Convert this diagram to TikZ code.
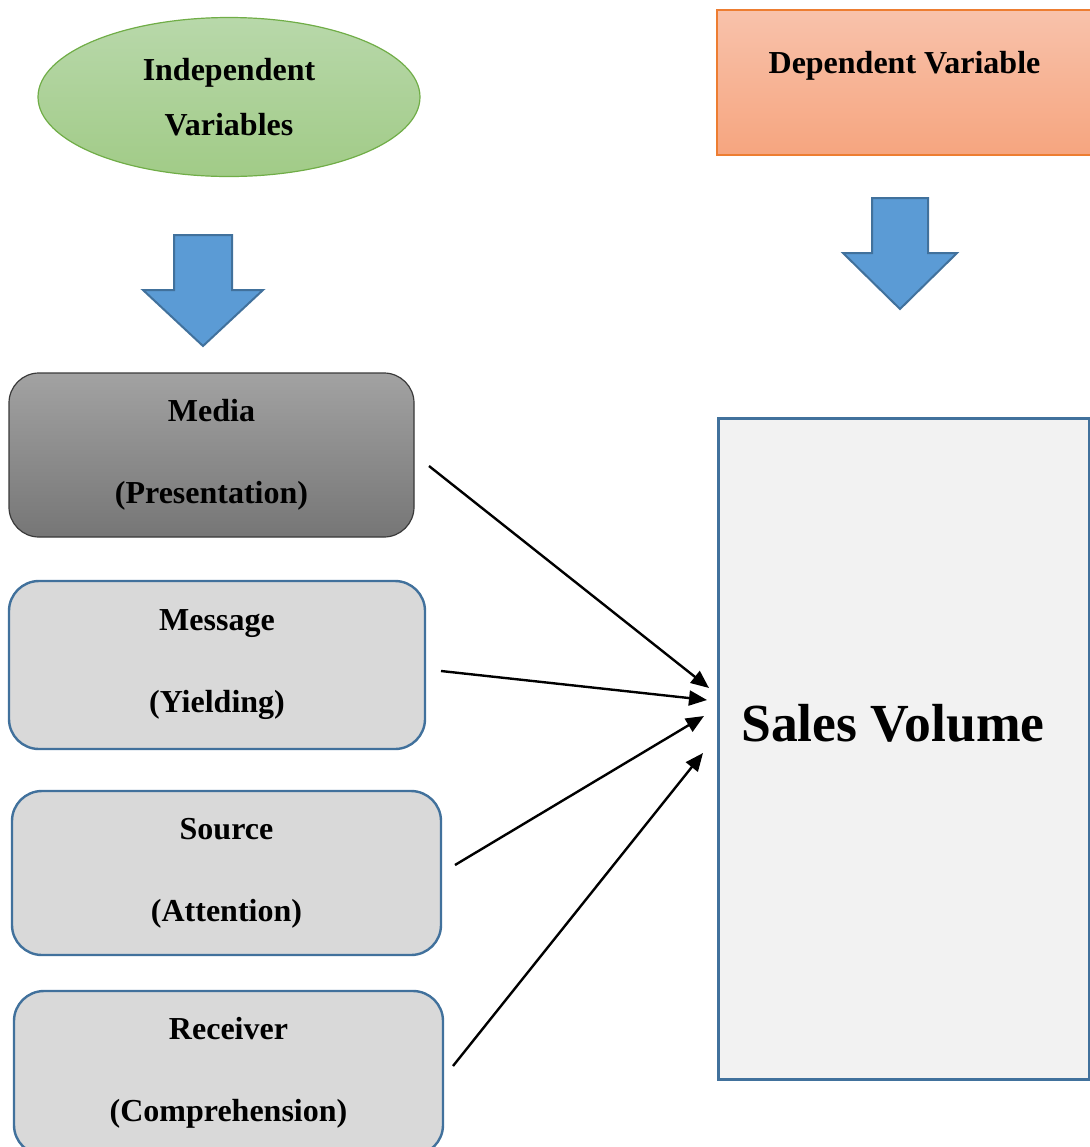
\documentclass[tikz,border=0pt]{standalone}
\usepackage{fontspec}
\setmainfont{Liberation Serif}
\usetikzlibrary{shapes.geometric,arrows.meta}
\definecolor{greentop}{HTML}{B8D8AA}
\definecolor{greenbot}{HTML}{A1CB87}
\definecolor{greenline}{HTML}{70AD47}
\definecolor{orangetop}{HTML}{F8C2AB}
\definecolor{orangebot}{HTML}{F6A57F}
\definecolor{orangeline}{HTML}{ED7D31}
\definecolor{graytop}{HTML}{A2A2A2}
\definecolor{graybot}{HTML}{767676}
\definecolor{grayline}{HTML}{3A3A3A}
\definecolor{boxfill}{HTML}{D9D9D9}
\definecolor{boxline}{HTML}{41719C}
\definecolor{salesfill}{HTML}{F2F2F2}
\definecolor{arrowfill}{HTML}{5B9BD5}
\tikzset
 {> = {Triangle[length=9pt,width=7.5pt]},      % filled triangles on the links
  twolines/.style = {font=\bfseries\fontsize{16}{41}\selectfont, align=center},
  indep/.style =                                    % green ellipse at the top
   {ellipse, draw=greenline, line width=0.6pt, top color=greentop,
    bottom color=greenbot, minimum width=191pt, minimum height=79.5pt,
    font=\bfseries\fontsize{16}{27.5}\selectfont, align=center},
  dep/.style =                                    % orange box at the top right
   {rectangle, draw=orangeline, line width=0.6pt, top color=orangetop,
    bottom color=orangebot, minimum width=187.5pt, minimum height=72.5pt,
    font=\bfseries\fontsize{16}{19}\selectfont,
    text height=12pt, text depth=21.5pt},
  bigarrow/.style = {draw=boxline, fill=arrowfill, line width=1pt},
  varbox/.style =                                  % grey boxes with blue edges
   {rectangle, rounded corners=15pt, draw=boxline, line width=1.2pt,
    fill=boxfill, minimum width=214.5pt, minimum height=82pt, twolines},
  mediabox/.style =
   {varbox, draw=grayline, line width=0.6pt, top color=graytop,
    bottom color=graybot, minimum width=202.5pt},
  salesbox/.style =
   {rectangle, draw=boxline, line width=1.5pt, fill=salesfill,
    minimum width=185.5pt, minimum height=330.5pt,
    font=\bfseries\fontsize{26.8}{32}\selectfont,
    text height=19pt, text depth=26.5pt},
  link/.style = {->, line width=1.2pt}
 }
\begin{document}
\begin{tikzpicture}[x=0.5pt, y=-0.5pt]
    \useasboundingbox (0,0) rectangle (1090,1147);
    % headings
    \node[indep] (indep) at (229,97) {Independent\\Variables};
    \node[dep] (dep) at (904.5,82.5) {Dependent Variable};
    % block arrows under the headings
    \foreach \cx/\top/\sw/\hw in {203/235/29/60, 900/198/28/57}
        \draw[bigarrow] (\cx-\sw,\top) -- (\cx+\sw,\top) -- (\cx+\sw,\top+55)
            -- (\cx+\hw,\top+55) -- (\cx,\top+111) -- (\cx-\hw,\top+55)
            -- (\cx-\sw,\top+55) -- cycle;
    % independent variables
    \node[mediabox] (media) at (211.5,455) {Media\\(Presentation)};
    \node[varbox, minimum width=208pt, minimum height=84pt] (message) at (217,665) {Message\\(Yielding)};
    \node[varbox] (source) at (226.5,873) {Source\\(Attention)};
    \node[varbox] (receiver) at (228.5,1073) {Receiver\\(Comprehension)};
    % dependent variable
    \node[salesbox] (sales) at (903.5,748.5) {Sales Volume\hspace*{10.5pt}};
    % links
    \coordinate (media-out) at (429,466);
    \coordinate (message-out) at (441,671);
    \coordinate (source-out) at (455,865);
    \coordinate (receiver-out) at (453,1066);
    \coordinate (sales-in-1) at (709,688);
    \coordinate (sales-in-2) at (707,700);
    \coordinate (sales-in-3) at (704,716);
    \coordinate (sales-in-4) at (703,753);
    \foreach \src/\n in {media/1, message/2, source/3, receiver/4}
        \draw[link] (\src-out) -- (sales-in-\n);
\end{tikzpicture}
\end{document}
